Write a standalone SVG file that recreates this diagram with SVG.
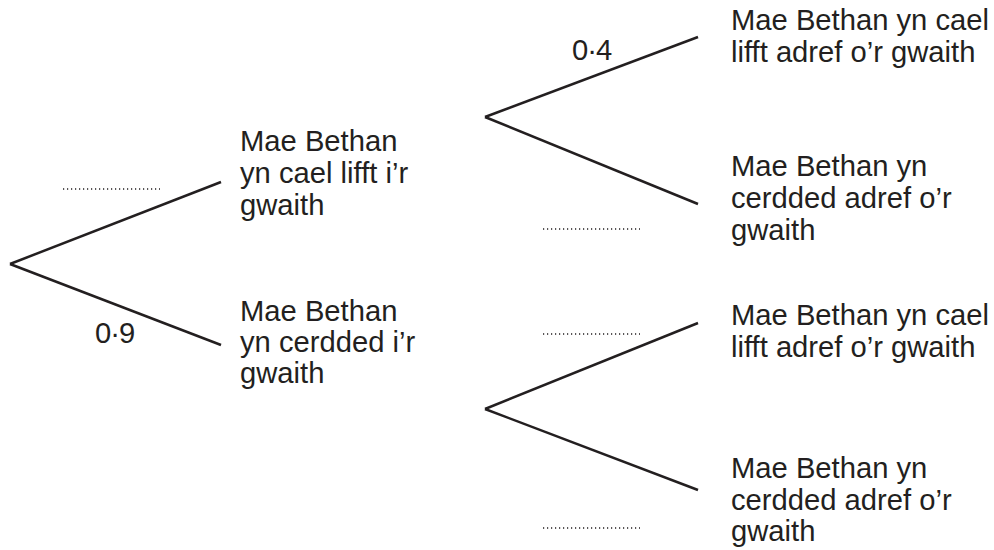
<svg xmlns="http://www.w3.org/2000/svg" width="994" height="550" viewBox="0 0 994 550">
<style>
.t{font-family:"Liberation Sans",Arial,sans-serif;font-size:29.2px;fill:#231f20}
.n{letter-spacing:-1px}
.br{stroke:#231f20;stroke-width:2.5;fill:none;stroke-linecap:butt}
.dot{stroke:#231f20;stroke-width:1.3;stroke-dasharray:1.2 2.8;fill:none}
</style>
<rect width="994" height="550" fill="#fff"/>
<g id="connectors">
<line class="br" x1="10" y1="264" x2="221" y2="182"/>
<line class="br" x1="10" y1="264" x2="221" y2="345"/>
<line class="br" x1="485" y1="117" x2="698" y2="37"/>
<line class="br" x1="485" y1="117" x2="698" y2="204"/>
<line class="br" x1="485" y1="409" x2="698" y2="323"/>
<line class="br" x1="485" y1="409" x2="698" y2="490"/>
</g>
<g id="labels">
<line class="dot" x1="63" y1="189" x2="160" y2="189"/>
<text class="t n" x="95" y="343">0·9</text>
<text class="t n" x="572" y="60">0·4</text>
<line class="dot" x1="543" y1="229" x2="640" y2="229"/>
<line class="dot" x1="543" y1="334" x2="640" y2="334"/>
<line class="dot" x1="543" y1="528" x2="640" y2="528"/>
</g>
<g id="node-lift">
<text class="t"><tspan x="240" y="151">Mae Bethan</tspan><tspan x="240" y="183">yn cael lifft i’r</tspan><tspan x="240" y="215">gwaith</tspan></text>
</g>
<g id="node-walk">
<text class="t"><tspan x="240" y="321">Mae Bethan</tspan><tspan x="240" y="352">yn cerdded i’r</tspan><tspan x="240" y="383">gwaith</tspan></text>
</g>
<g id="node-lift-lift">
<text class="t"><tspan x="731" y="30">Mae Bethan yn cael</tspan><tspan x="731" y="62">lifft adref o’r gwaith</tspan></text>
</g>
<g id="node-lift-walk">
<text class="t"><tspan x="731" y="176">Mae Bethan yn</tspan><tspan x="731" y="208">cerdded adref o’r</tspan><tspan x="731" y="240">gwaith</tspan></text>
</g>
<g id="node-walk-lift">
<text class="t"><tspan x="731" y="325">Mae Bethan yn cael</tspan><tspan x="731" y="357">lifft adref o’r gwaith</tspan></text>
</g>
<g id="node-walk-walk">
<text class="t"><tspan x="731" y="478">Mae Bethan yn</tspan><tspan x="731" y="510">cerdded adref o’r</tspan><tspan x="731" y="541">gwaith</tspan></text>
</g>
</svg>
